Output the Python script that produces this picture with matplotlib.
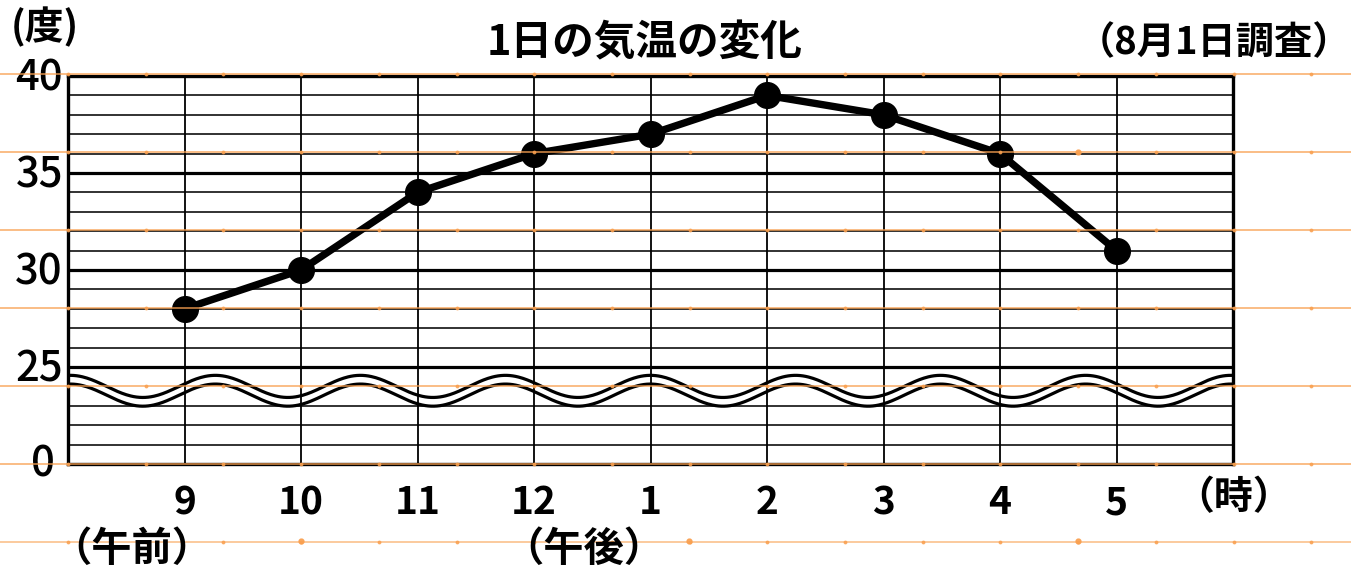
import numpy as np
import matplotlib
matplotlib.use('Agg')
import matplotlib.pyplot as plt
from matplotlib.lines import Line2D

plt.rcParams['font.family'] = ['Noto Sans CJK JP', 'DejaVu Sans']

# data
hours = ['9', '10', '11', '12', '1', '2', '3', '4', '5']
temps = [28, 30, 34, 36, 37, 39, 38, 36, 31]
ytick_vals = [0, 25, 30, 35, 40]
break_low = 20   # values from 0..20 are cut out of the axis

W, H = 1351, 574
fig = plt.figure(figsize=(W / 100, H / 100), dpi=100)


def fx(x):
    return x / W


def fy(y):
    return 1 - y / H


ax = fig.add_axes([fx(68), fy(464), fx(1233 - 68), (464 - 76) / H])
ax.set_zorder(1)


def to_axis(v):
    # axis with break: 0 stays at 0, values >= 25 are shifted down by 20
    v = np.asarray(v, dtype=float)
    return np.where(v >= 25, v - break_low, v)


xs = np.arange(1, len(hours) + 1)
ax.set_xlim(0, len(hours) + 1)
ax.set_ylim(0, 20)

# grid
for d in range(1, 20):
    if d == 4:
        continue
    if d % 5 == 0:
        ax.axhline(d, color='black', lw=2.3, zorder=1)
    else:
        ax.axhline(d, color='#222222', lw=1.3, zorder=1)
for x in xs:
    ax.axvline(x, color='black', lw=1.3, zorder=1)

# wavy break marks
wx = np.linspace(0, len(hours) + 1, 800)
period = 1.245
wave = 0.57 * np.cos(2 * np.pi * (wx - 5) / period)
ax.plot(wx, 4.0 + wave, color='black', lw=2.3, zorder=2)
ax.plot(wx, 3.55 + wave, color='black', lw=2.3, zorder=2)

# data line
ax.plot(xs, to_axis(temps), color='black', lw=5.3, marker='o', ms=18.5,
        zorder=4, solid_capstyle='round')

for s in ax.spines.values():
    s.set_linewidth(2.4)
    s.set_color('black')

# y labels
ax.set_yticks([])
for v, d in zip(ytick_vals, to_axis(ytick_vals)):
    if v == 0:
        ax.text(-25 / 1165, d, str(v), transform=ax.get_yaxis_transform(),
                fontsize=30, fontweight='medium', ha='center', va='center')
    else:
        ax.text(-5 / 1165, d - 0.1, str(v), transform=ax.get_yaxis_transform(),
                fontsize=30, fontweight='medium', ha='right', va='center')
ax.set_xticks(xs)
ax.set_xticklabels(hours, fontsize=28, fontweight='bold')
ax.tick_params(axis='x', length=0, pad=14)

# texts
fig.text(fx(45), fy(27), '(度)', fontsize=28, ha='center', va='center', fontweight='bold')
fig.text(fx(645), fy(43), '1日の気温の変化', fontsize=30, ha='center', va='center', fontweight='bold')
fig.text(fx(1214), fy(43), '（8月1日調査）', fontsize=27.5, ha='center', va='center', fontweight='bold')
fig.text(fx(1234), fy(498), '（時）', fontsize=28, ha='center', va='center', fontweight='bold')
fig.text(fx(132), fy(549), '（午前）', fontsize=29, ha='center', va='center', fontweight='bold')
fig.text(fx(584), fy(549), '（午後）', fontsize=29, ha='center', va='center', fontweight='bold')

# orange notebook lines with dots
orange = '#f9a050'
dx = [68 + 77.7 * j for j in range(17)]
for k in range(7):
    y = 74.3 + 78 * k
    fig.add_artist(Line2D([0, 1], [fy(y), fy(y)], transform=fig.transFigure,
                          color=orange, lw=1.3, alpha=0.75 if k < 6 else 0.6, zorder=2))
    fig.add_artist(Line2D([fx(v) for v in dx], [fy(y)] * len(dx), transform=fig.transFigure,
                          ls='none', marker='o', ms=1.8, color=orange, alpha=0.8, zorder=2))
big = [(301, 541), (689, 541), (1078, 541), (1078, 152)]
for bx, by in big:
    fig.add_artist(Line2D([fx(bx)], [fy(by + 0.3)], transform=fig.transFigure,
                          ls='none', marker='o', ms=3.5, color=orange, alpha=0.9, zorder=2))

fig.savefig('out.png', dpi=100)
